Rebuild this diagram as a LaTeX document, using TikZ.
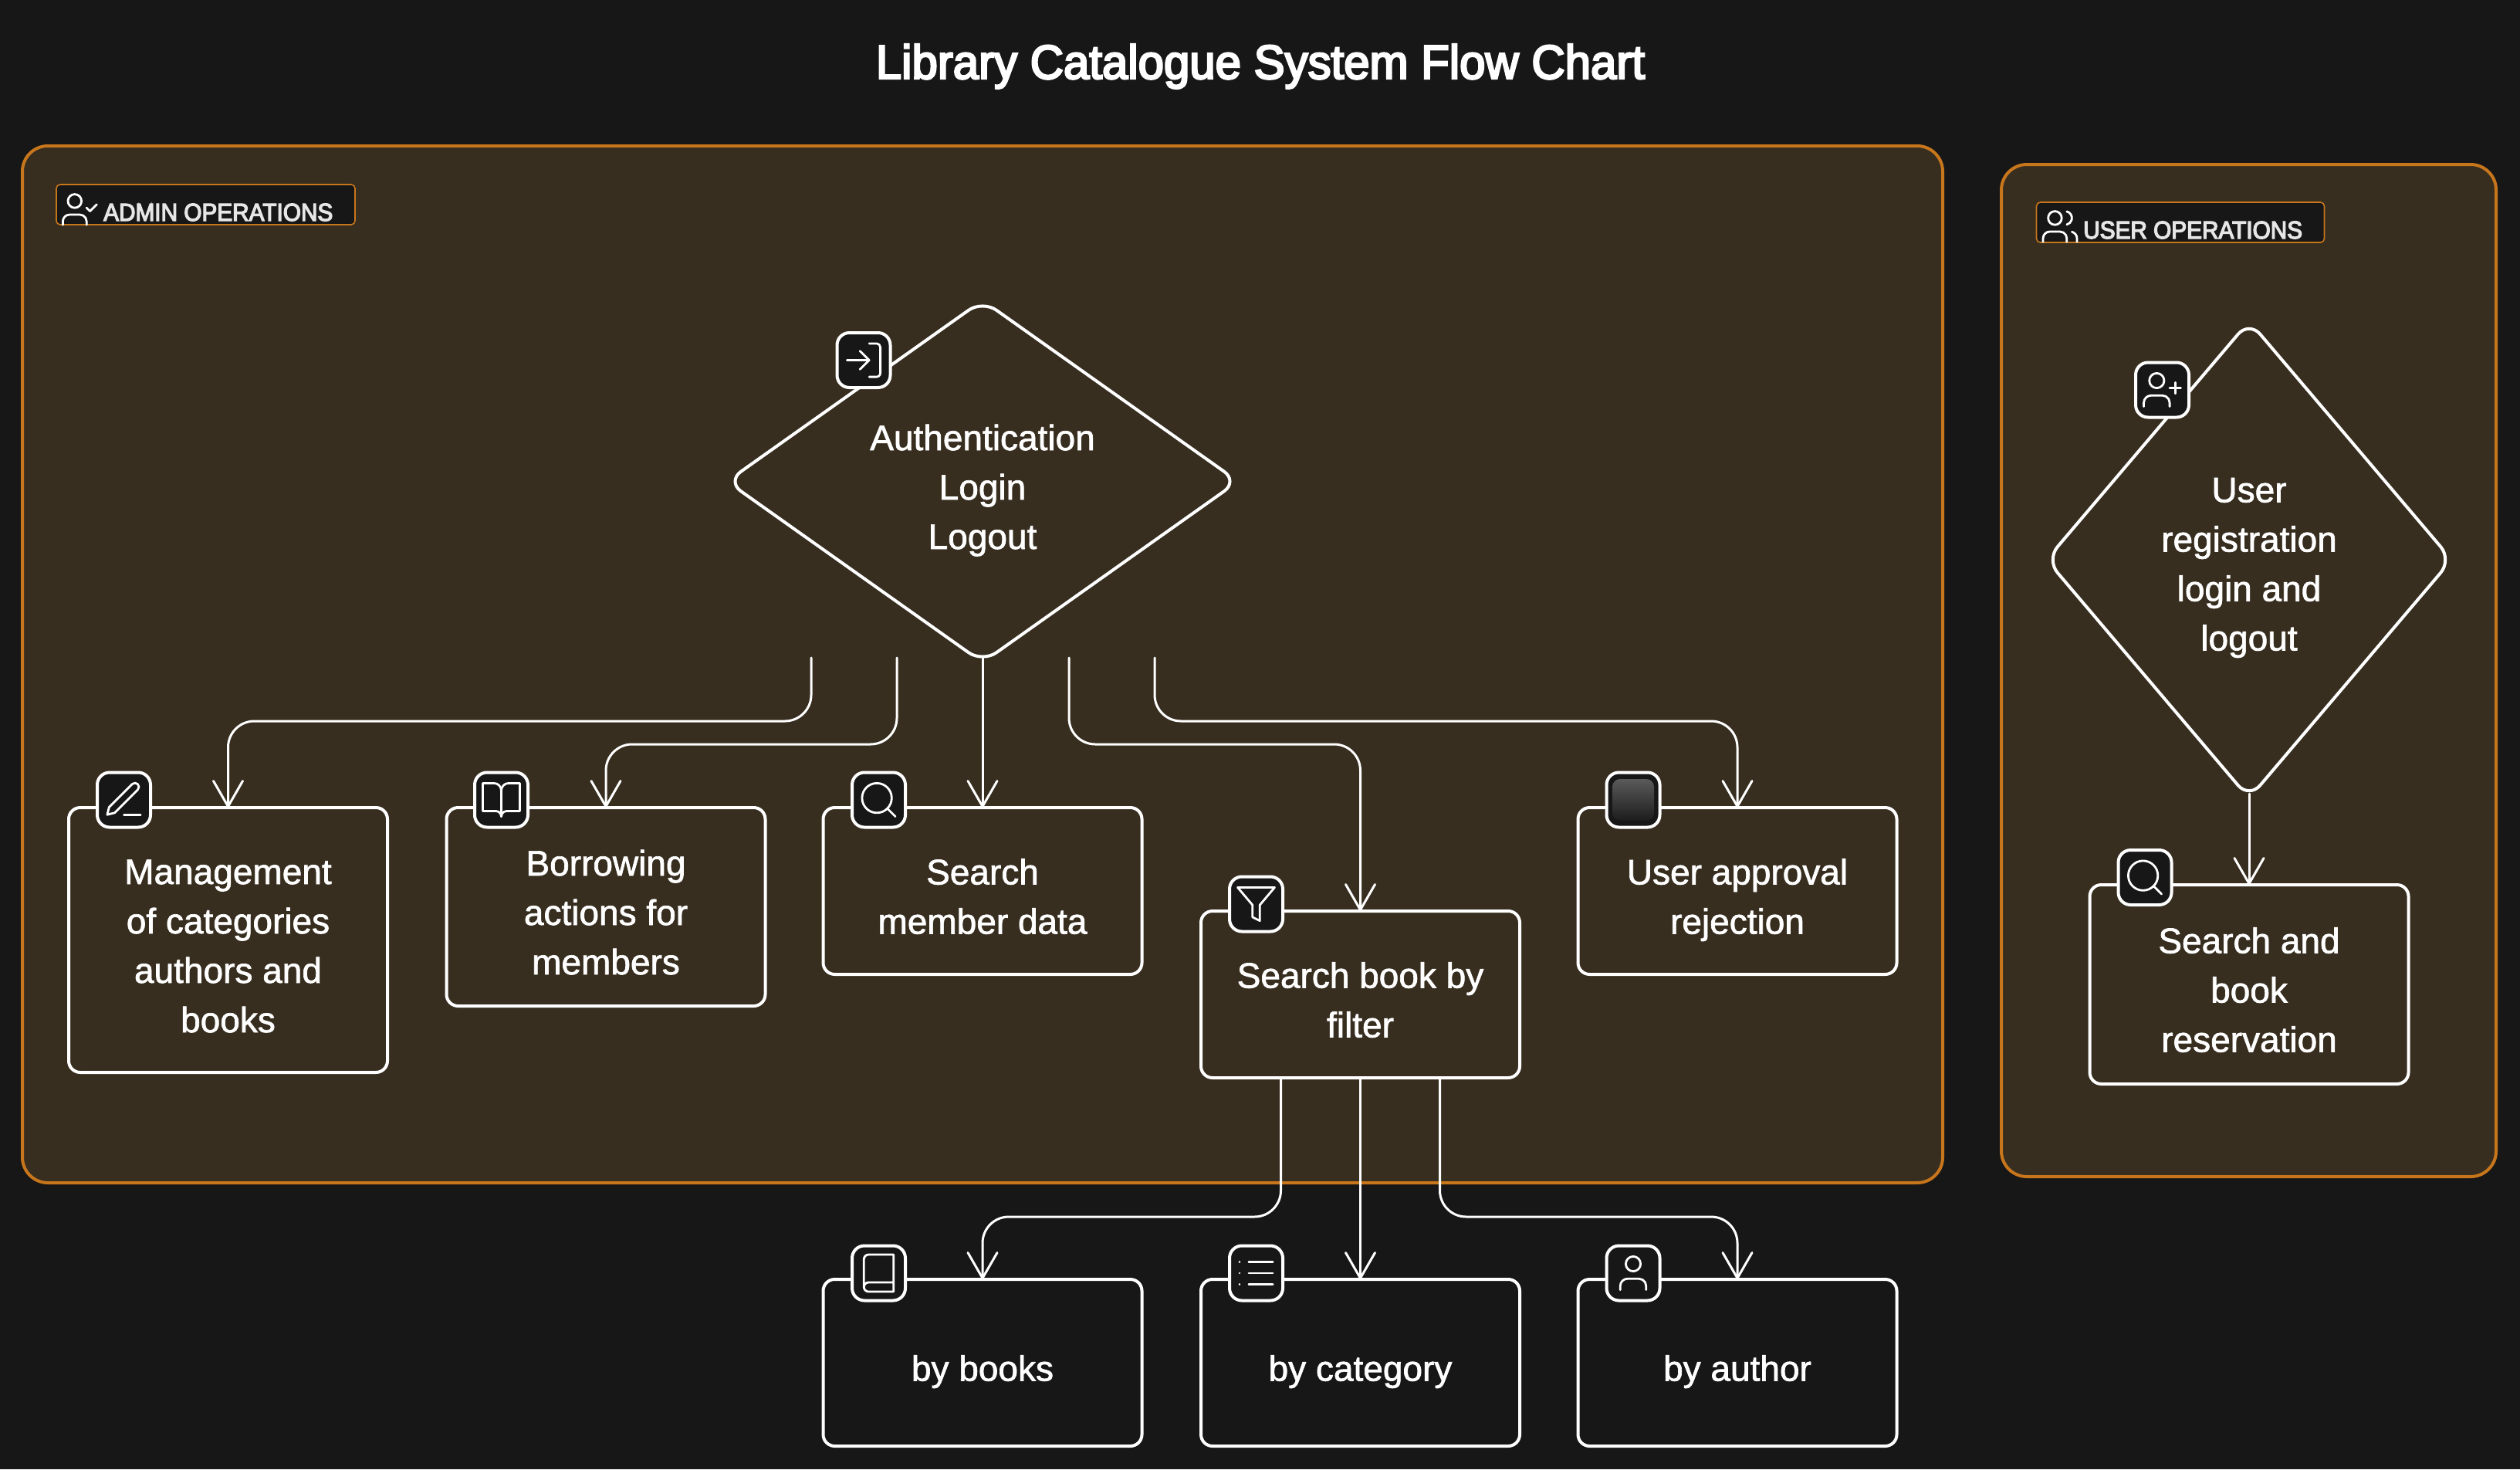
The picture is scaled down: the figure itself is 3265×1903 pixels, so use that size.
\documentclass[tikz,border=0pt]{standalone}
\usepackage{fontspec}
\setmainfont[FakeBold=1.5]{Liberation Sans}
\newfontfamily\titlefont[FakeBold=4,FakeStretch=0.967]{Liberation Sans}
\newfontfamily\tagfont[FakeBold=4,FakeStretch=0.93]{Liberation Sans}
\usetikzlibrary{shapes.geometric,arrows.meta,svg.path,calc}
\definecolor{canvas}{HTML}{171717}
\definecolor{groupfill}{HTML}{372E20}
\definecolor{grouporange}{HTML}{C8761C}
\definecolor{tagtext}{HTML}{E6E6E6}
\definecolor{shadehi}{HTML}{5A5A5A}
\definecolor{shadelo}{HTML}{1C1C1C}
\lineskiplimit=-100pt
\normallineskiplimit=-100pt
\def\ls{\vrule width 0pt height 57pt depth 10pt\relax}
\tikzset{
  groupbox/.style={draw=grouporange,line width=4pt,fill=groupfill,rounded corners=33pt,inner sep=0,outer sep=0},
  tagbox/.style={draw=grouporange,line width=1.6pt,fill=canvas,rounded corners=5pt,minimum height=52pt,inner sep=0,outer sep=0},
  tagtextstyle/.style={text=tagtext,font=\tagfont\fontsize{32}{36}\selectfont,inner sep=0,anchor=base west},
  flowbox/.style={draw=white,line width=4pt,rounded corners=15pt,minimum width=413pt,inner sep=0,outer sep=0,text=white,align=center,font=\fontsize{46}{64}\selectfont},
  decision/.style={draw=white,line width=4pt,rounded corners=22pt,diamond,inner sep=0,outer sep=0},
  dectext/.style={text=white,align=center,font=\fontsize{46}{64}\selectfont,inner sep=0},
  iconbox/.style={draw=white,line width=4pt,fill=canvas,rounded corners=16pt,minimum width=69pt,minimum height=71pt,inner sep=0,outer sep=0},
  flow/.style={draw=white,line width=3pt,rounded corners=34pt,line cap=round,-{Straight Barb[length=33pt,width=38pt,round]}},
  glyph/.style={draw=white,line width=2.8pt,line cap=round,line join=round},
}
\newcommand{\glyphat}[3]{%
  \begin{scope}[shift={(#1)},xscale=#2,yscale=-#2,xshift=-12pt,yshift=-12pt]
    \foreach \p in {#3}{\edef\q{\p}\expandafter\glyphpath\expandafter{\q}}
  \end{scope}}
\newcommand{\glyphpath}[1]{\draw[glyph] svg {#1};}
\def\PersonNine{M 16 21 v -2 a 4 4 0 0 0 -4 -4 H 6 a 4 4 0 0 0 -4 4 v 2}
\def\HeadNine{M 13 7 a 4 4 0 1 1 -8 0 a 4 4 0 1 1 8 0}
\begin{document}
\begin{tikzpicture}[x=1pt,y=-1pt]
\useasboundingbox[fill=canvas] (0,0) rectangle (3265,1903);

\node[text=white,font=\titlefont\fontsize{62}{70}\selectfont,inner sep=0,anchor=base] (title) at (1633,102) {Library Catalogue System Flow Chart};

% groups
\node[groupbox,minimum width=2488pt,minimum height=1343pt] (admin) at (1273,860.5) {};
\node[groupbox,minimum width=641pt,minimum height=1311pt] (user) at (2913.5,868.5) {};

% group tags
\node[tagbox,minimum width=387pt] (admintag) at (266.5,265) {};
\node[tagbox,minimum width=373pt] (usertag) at (2825,288) {};
\node[tagtextstyle] (admintxt) at (134,286) {ADMIN OPERATIONS};
\node[tagtextstyle] (usertxt) at (2699,309) {USER OPERATIONS};

% decisions
\node[decision,minimum width=662pt,minimum height=469pt,aspect=1.41,
  label={[dectext]center:{\ls Authentication\\\ls Login\\\ls Logout}}] (auth) at (1273,623.5) {};
\node[decision,minimum width=525pt,minimum height=618pt,aspect=0.85,
  label={[dectext,yshift=2pt]center:{\ls User\\\ls registration\\\ls login and\\\ls logout}}] (reg) at (2914,725) {};

% process boxes
\node[flowbox,minimum height=343pt] (mgmt) at (295.5,1217.5) {\ls Management\\\ls of categories\\\ls authors and\\\ls books};
\node[flowbox,minimum height=257pt] (borrow) at (785,1174.5) {\ls Borrowing\\\ls actions for\\\ls members};
\node[flowbox,minimum height=216pt] (searchm) at (1273,1154) {\ls Search\\\ls member data};
\node[flowbox,minimum height=216pt] (filter) at (1762.5,1288) {\ls Search book by\\\ls filter};
\node[flowbox,minimum height=216pt] (approve) at (2251,1154) {\ls User approval\\\ls rejection};
\node[flowbox,minimum height=258pt] (reserve) at (2914,1275) {\ls Search and\\\ls book\\\ls reservation};
\node[flowbox,minimum height=216pt] (bybooks) at (1273,1765) {\ls by books};
\node[flowbox,minimum height=216pt] (bycat) at (1762.5,1765) {\ls by category};
\node[flowbox,minimum height=216pt] (byauth) at (2251,1765) {\ls by author};

% connector anchors
\coordinate (authout) at ([yshift=6pt]auth.south);
\coordinate (regout) at ([yshift=6pt]reg.south);
\coordinate (a1) at ([xshift=-222pt]authout);
\coordinate (a2) at ([xshift=-111pt]authout);
\coordinate (a4) at ([xshift=112pt]authout);
\coordinate (a5) at ([xshift=223pt]authout);
\coordinate (f1) at ([xshift=-103pt]filter.south);
\coordinate (f3) at ([xshift=103pt]filter.south);
\coordinate (upper) at (0,934);
\coordinate (lower) at (0,964);
\coordinate (bottom) at (0,1576);

% connectors
\draw[flow] (a1) -- (a1 |- upper) -- (mgmt.north |- upper) -- (mgmt.north);
\draw[flow] (a2) -- (a2 |- lower) -- (borrow.north |- lower) -- (borrow.north);
\draw[flow] (authout) -- (searchm.north);
\draw[flow] (a4) -- (a4 |- lower) -- (filter.north |- lower) -- (filter.north);
\draw[flow] (a5) -- (a5 |- upper) -- (approve.north |- upper) -- (approve.north);
\draw[flow] (regout) -- (reserve.north);
\draw[flow] (f1) -- (f1 |- bottom) -- (bybooks.north |- bottom) -- (bybooks.north);
\draw[flow] (filter.south) -- (bycat.north);
\draw[flow] (f3) -- (f3 |- bottom) -- (byauth.north |- bottom) -- (byauth.north);

% icon badges
\node[iconbox] (iauth) at (1119,466.5) {};
\node[iconbox] (ireg) at (2801.5,505) {};
\node[iconbox] (imgmt) at (160.5,1036) {};
\node[iconbox] (iborrow) at (649.5,1036) {};
\node[iconbox] (isearchm) at (1138.5,1036) {};
\node[iconbox] (ifilter) at (1627.5,1171) {};
\node[iconbox] (iapprove) at (2116,1036) {};
\node[iconbox] (ireserve) at (2779,1136.5) {};
\node[iconbox] (ibooks) at (1138.5,1649) {};
\node[iconbox] (icat) at (1627.5,1649) {};
\node[iconbox] (iauthor) at (2116,1649) {};

\node[draw=none,minimum width=54pt,minimum height=54pt,rounded corners=10pt,inner sep=0,
  shade,shading angle=45,top color=shadehi,bottom color=shadelo] (ishade) at (iapprove.center) {};

% tag icons
\coordinate (gadmin) at ([xshift=30.4pt,yshift=-6.4pt]admintag.west);
\coordinate (guser) at ([xshift=30.5pt,yshift=-5.4pt]usertag.west);
\glyphat{gadmin}{2.2}{{\PersonNine},{\HeadNine},{M 16 11 L 18 13 L 22 9}}
\glyphat{guser}{2.2}{{\PersonNine},{\HeadNine},{M 22 21 v -2 a 4 4 0 0 0 -3 -3.87},{M 16 3.13 a 4 4 0 0 1 0 7.75}}

% badge icons
\glyphat{iauth}{2.4}{{M 15 3 h 4 a 2 2 0 0 1 2 2 v 14 a 2 2 0 0 1 -2 2 h -4},{M 10 17 L 15 12 L 10 7},{M 15 12 L 3 12}}
\glyphat{ireg}{2.4}{{\PersonNine},{\HeadNine},{M 19 8 L 19 14},{M 22 11 L 16 11}}
\glyphat{imgmt}{2.4}{{M 12 20 h 9},{M 16.5 3.5 a 2.12 2.12 0 0 1 3 3 L 7 19 l -4 1 l 1 -4 Z}}
\glyphat{iborrow}{2.4}{{M 2 3 h 6 a 4 4 0 0 1 4 4 v 14 a 3 3 0 0 0 -3 -3 H 2 z},{M 22 3 h -6 a 4 4 0 0 0 -4 4 v 14 a 3 3 0 0 1 3 -3 h 7 z}}
\glyphat{isearchm}{2.4}{{M 19 11 a 8 8 0 1 1 -16 0 a 8 8 0 1 1 16 0},{M 21 21 L 16.65 16.65}}
\glyphat{ireserve}{2.4}{{M 19 11 a 8 8 0 1 1 -16 0 a 8 8 0 1 1 16 0},{M 21 21 L 16.65 16.65}}
\glyphat{ifilter}{2.4}{{M 22 3 L 2 3 L 10 12.46 L 10 19 L 14 21 L 14 12.46 Z}}
\glyphat{ibooks}{2.4}{{M 4 19.5 v -15 c 0 -1.38 1.12 -2.5 2.5 -2.5 H 20 v 20 H 6.5 c -1.38 0 -2.5 -1.12 -2.5 -2.5 c 0 -1.38 1.12 -2.5 2.5 -2.5 H 20}}
\glyphat{icat}{2.4}{{M 8 6 L 21 6},{M 8 12 L 21 12},{M 8 18 L 21 18},{M 3 6 h 0.01},{M 3 12 h 0.01},{M 3 18 h 0.01}}
\glyphat{iauthor}{2.4}{{M 19 21 v -2 a 4 4 0 0 0 -4 -4 H 9 a 4 4 0 0 0 -4 4 v 2},{M 16 7 a 4 4 0 1 1 -8 0 a 4 4 0 1 1 8 0}}
\end{tikzpicture}
\end{document}
